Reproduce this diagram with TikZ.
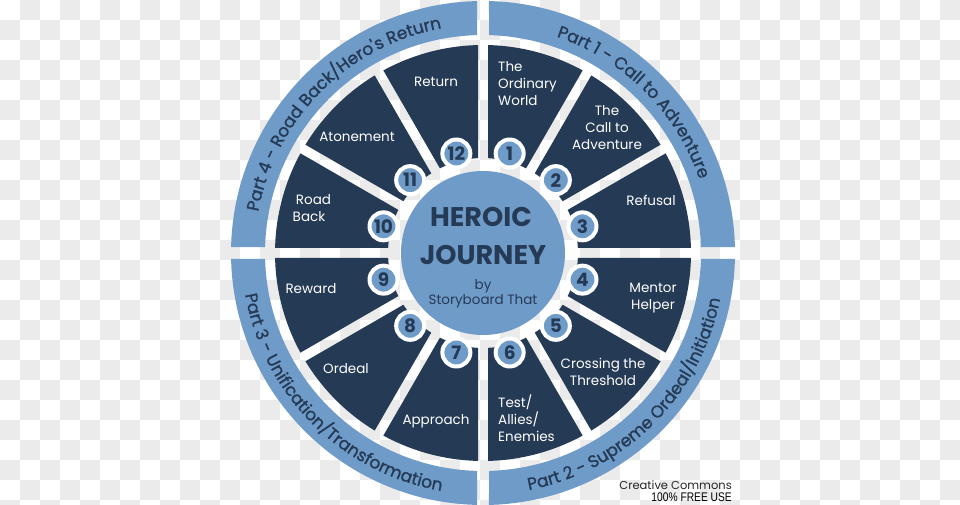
\documentclass[tikz,border=0pt]{standalone}
\usepackage{fontspec}
\setmainfont{Poppins}
\newfontfamily\bandfont{Poppins}[FakeBold=1.2]
\newfontfamily\narrowfont{Liberation Sans}[FakeStretch=0.82]
\usetikzlibrary{decorations.text}
\definecolor{hjnavy}{HTML}{253A55}
\definecolor{hjblue}{HTML}{6F9BC9}
\definecolor{hjcheck}{HTML}{EBEBEB}

\begin{document}
\begin{tikzpicture}[x=1pt, y=1pt,
  stage/.style={text=white, font=\fontsize{13.5}{17}\selectfont, align=center, inner sep=0},
  numdot/.style={circle, fill=hjblue, draw=white, line width=4pt, minimum size=28pt,
                 inner sep=0, text=hjnavy, font=\fontsize{18.5}{18}\selectfont\bfseries},
  parttext/.style={decorate, decoration={text along path, text align=center,
                   text={|\bandfont\fontsize{17}{17}\selectfont\color{hjnavy}|#1}}}]

\useasboundingbox (0,0) rectangle (960,505);

% ---- transparent backdrop
\begin{scope}
  \clip (0,0) rectangle (960,505);
  \fill[white] (0,0) rectangle (960,505);
  \foreach \i in {0,...,47}
    \foreach \j in {0,...,25}{
      \pgfmathtruncatemacro\odd{mod(\i+\j,2)}
      \ifnum\odd=1
        \fill[hjcheck] (20*\i,505-20*\j) rectangle (20*\i+20,485-20*\j);
      \fi
    }
\end{scope}

\begin{scope}[shift={(483,252)}]

% ============================================== outer band, four parts
\foreach \q in {0,...,3}{
  \pgfmathsetmacro\aa{90*\q}
  \pgfmathsetmacro\bb{90*\q+90}
  \pgfmathsetmacro\dIn{asin(6/218)}
  \pgfmathsetmacro\dOut{asin(6/252)}
  \pgfmathsetmacro\pA{\aa+\dIn}
  \pgfmathsetmacro\pB{\aa+\dOut}
  \pgfmathsetmacro\pC{\bb-\dOut}
  \pgfmathsetmacro\pD{\bb-\dIn}
  \fill[hjblue] (\pA:218) -- (\pB:252) arc[start angle=\pB, end angle=\pC, radius=252]
        -- (\pD:218) arc[start angle=\pD, end angle=\pA, radius=218] -- cycle;
}

\path[parttext={Part 1 - Call to Adventure}]
  (115:228.5) arc[start angle=115, end angle=-25, radius=228.5];
\path[parttext={Part 2 - Supreme Ordeal/Initiation}]
  (-115:241.5) arc[start angle=-115, end angle=25, radius=241.5];
\path[parttext={Part 3 - Unification/Transformation}]
  (155:241.5) arc[start angle=155, end angle=295, radius=241.5];
\path[parttext={Part 4 - Road Back/Hero's Return}]
  (205:228.5) arc[start angle=205, end angle=65, radius=228.5];

% ============================================== twelve stages
\foreach \k in {1,...,12}{
  \pgfmathsetmacro\aa{90-30*\k}
  \pgfmathsetmacro\bb{120-30*\k}
  \pgfmathsetmacro\dIn{asin(5/95)}
  \pgfmathsetmacro\dOut{asin(5/208)}
  \pgfmathsetmacro\pA{\aa+\dIn}
  \pgfmathsetmacro\pB{\aa+\dOut}
  \pgfmathsetmacro\pC{\bb-\dOut}
  \pgfmathsetmacro\pD{\bb-\dIn}
  \fill[hjnavy] (\pA:95) -- (\pB:208) arc[start angle=\pB, end angle=\pC, radius=208]
        -- (\pD:95) arc[start angle=\pD, end angle=\pA, radius=95] -- cycle;
}

\node[stage, anchor=west, align=left] (s1) at (15,169) {The\\Ordinary\\World};
\node[stage] (s2) at (124,125) {The\\Call to\\Adventure};
\node[stage] (s3) at (168,53) {Refusal};
\node[stage] (s4) at (170,-45) {Mentor\\Helper};
\node[stage] (s5) at (120,-119) {Crossing the\\Threshold};
\node[stage, anchor=west, align=left] (s6) at (15,-165) {Test/\\Allies/\\Enemies};
\node[stage] (s7) at (-47,-168) {Approach};
\node[stage] (s8) at (-137,-116) {Ordeal};
\node[stage] (s9) at (-172,-36) {Reward};
\node[stage] (s10) at (-174,45) {\hspace*{9pt}Road\\Back};
\node[stage] (s11) at (-126,116) {Atonement};
\node[stage] (s12) at (-47,171) {Return};

% ---- numbered dots
\foreach \k in {1,...,12}{
  \pgfmathsetmacro\mid{105-30*\k}
  \node[numdot] (n\k) at (\mid:103) {\k};
}

% ============================================== hub
\node[circle, fill=hjblue, minimum size=164pt, inner sep=0] (hub) at (0,0) {};
\node[text=hjnavy, font=\fontsize{27}{27}\selectfont\bfseries] (heroic) at (-2,36) {HEROIC};
\node[text=hjnavy, font=\fontsize{27}{27}\selectfont\bfseries] (journey) at (0,-2) {JOURNEY};
\node[text=hjnavy, font=\fontsize{13.5}{15}\selectfont, align=center] (byline) at (0,-41)
  {by\\Storyboard That};

\end{scope}

% ---- licence note
\node[anchor=base east, inner sep=0, text=black!85, font=\fontsize{11.5}{12}\selectfont]
  (cc) at (732,15) {Creative Commons};
\node[anchor=base east, inner sep=0, text=black, font=\narrowfont\fontsize{12.5}{12}\selectfont]
  (free) at (732,3) {100\% FREE USE};

\end{tikzpicture}
\end{document}
